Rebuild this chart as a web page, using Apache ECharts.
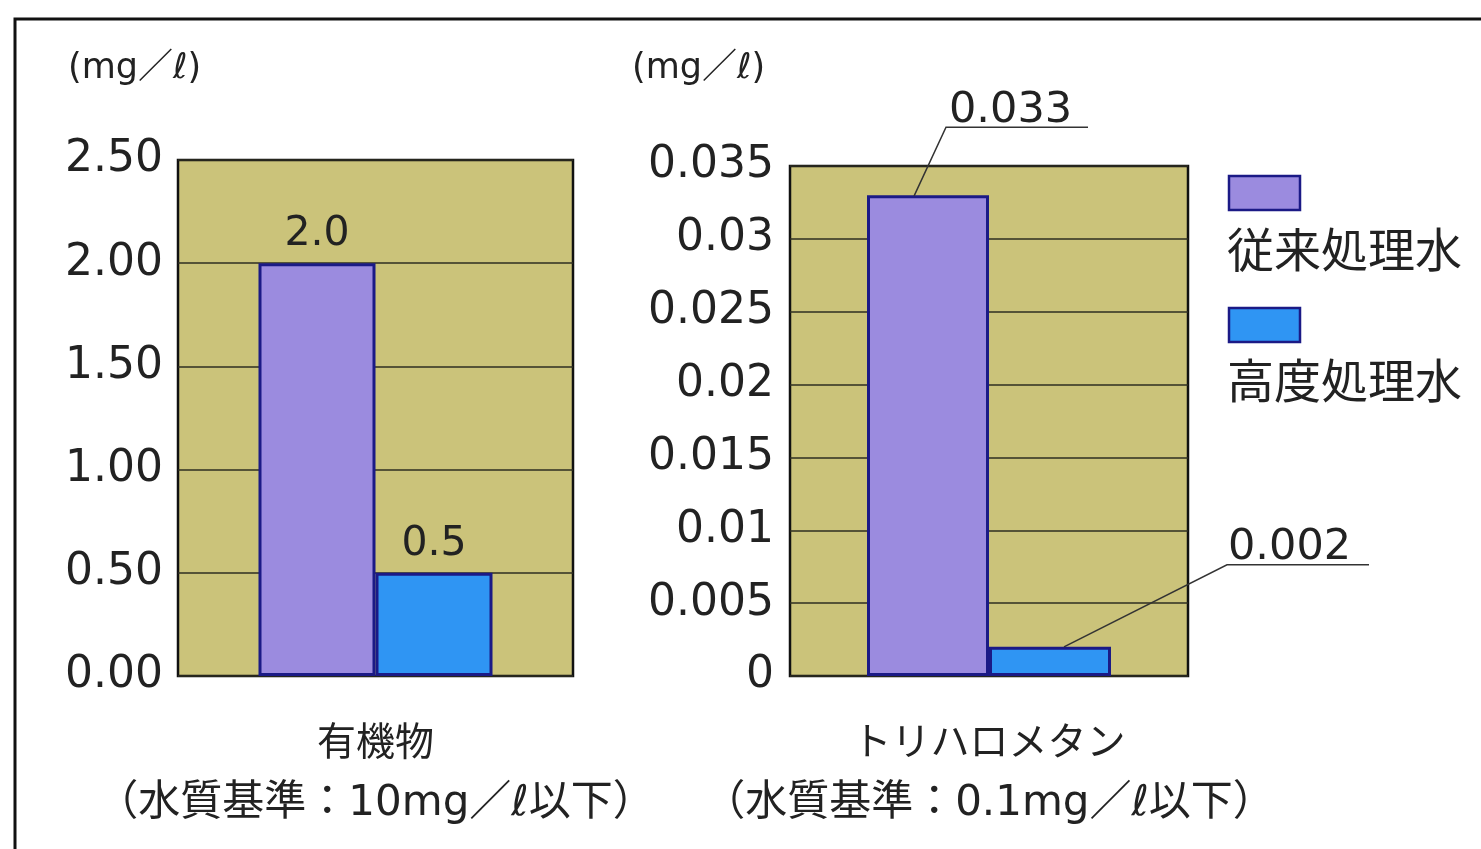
<!DOCTYPE html>
<html>
<head>
<meta charset="utf-8">
<script src="https://cdn.jsdelivr.net/npm/echarts@6/dist/echarts.min.js"></script>
<style>
html,body{margin:0;padding:0;background:#fff;}
#c{width:1481px;height:849px;}
</style>
</head>
<body>
<div id="c"></div>
<script>
// ---- data ----
const seriesNames = ['従来処理水', '高度処理水'];
const leftCategory = ['有機物'];
const leftSub = '（水質基準：10mg／ℓ以下）';
const leftConventional = [2.0];
const leftAdvanced = [0.5];
const leftTickLabels = ['0.00', '0.50', '1.00', '1.50', '2.00', '2.50'];

const rightCategory = ['トリハロメタン'];
const rightSub = '（水質基準：0.1mg／ℓ以下）';
const rightConventional = [0.033];
const rightAdvanced = [0.002];
const rightTickLabels = ['0', '0.005', '0.01', '0.015', '0.02', '0.025', '0.03', '0.035'];

const unitLabel = '(mg／ℓ)';

// ---- style ----
const FONT = '"DejaVu Sans", "Noto Sans CJK JP", sans-serif';
const JFONT = '"Noto Sans CJK JP", "DejaVu Sans", sans-serif';
const BG = '#cbc37a';
const PURPLE = '#9b8bdf';
const BLUE = '#2f95f3';
const BORDER = '#1b1a86';
const TXT = '#222';

const chart = echarts.init(document.getElementById('c'), null, {renderer: 'canvas'});

function catLabel(sub) {
  return {
    interval: 0, margin: 32, color: TXT,
    formatter: (v) => '{a|' + v + '}\n{b|' + sub + '}',
    rich: {
      a: {fontFamily: JFONT, fontSize: 39, lineHeight: 64, color: TXT},
      b: {fontFamily: FONT, fontSize: 42, lineHeight: 64, color: TXT}
    }
  };
}

const option = {
  animation: false,
  backgroundColor: '#fff',
  title: [
    {text: unitLabel, left: 63, top: 46, textStyle: {fontFamily: FONT, fontSize: 35, fontWeight: 'normal', color: TXT}},
    {text: unitLabel, left: 627, top: 46, textStyle: {fontFamily: FONT, fontSize: 35, fontWeight: 'normal', color: TXT}}
  ],
  grid: [
    {left: 178, top: 160, width: 395, height: 516, show: true, backgroundColor: BG, borderColor: '#111', borderWidth: 2.5, z: 0},
    {left: 790, top: 166, width: 398, height: 510, show: true, backgroundColor: BG, borderColor: '#111', borderWidth: 2.5, z: 0}
  ],
  xAxis: [
    {type: 'category', gridIndex: 0, data: leftCategory, axisLine: {show: false}, axisTick: {show: false}, axisLabel: catLabel(leftSub)},
    {type: 'category', gridIndex: 1, data: rightCategory, axisLine: {show: false}, axisTick: {show: false}, axisLabel: catLabel(rightSub)}
  ],
  yAxis: [
    {type: 'value', gridIndex: 0, min: 0, max: 2.5, interval: 0.5,
     axisLine: {show: false}, axisTick: {show: false},
     splitLine: {lineStyle: {color: '#2e2e22', width: 1.5}},
     axisLabel: {fontFamily: FONT, fontSize: 44, color: TXT, margin: 15,
       formatter: (v) => leftTickLabels[Math.round(v / 0.5)]}},
    {type: 'value', gridIndex: 1, min: 0, max: 0.035, interval: 0.005,
     axisLine: {show: false}, axisTick: {show: false},
     splitLine: {lineStyle: {color: '#2e2e22', width: 1.5}},
     axisLabel: {fontFamily: FONT, fontSize: 44, color: TXT, margin: 16,
       formatter: (v) => rightTickLabels[Math.round(v / 0.005)]}}
  ],
  series: [
    {name: seriesNames[0], type: 'bar', xAxisIndex: 0, yAxisIndex: 0, data: leftConventional,
     barWidth: 117, barGap: '0%',
     itemStyle: {color: PURPLE, borderColor: BORDER, borderWidth: 3},
     label: {show: true, position: 'top', distance: 8, fontFamily: FONT, fontSize: 41, color: TXT,
       formatter: (p) => p.value.toFixed(1)}},
    {name: seriesNames[1], type: 'bar', xAxisIndex: 0, yAxisIndex: 0, data: leftAdvanced,
     barWidth: 117, barGap: '0%',
     itemStyle: {color: BLUE, borderColor: BORDER, borderWidth: 3},
     label: {show: true, position: 'top', distance: 8, fontFamily: FONT, fontSize: 41, color: TXT,
       formatter: (p) => p.value.toFixed(1)}},
    {name: seriesNames[0], type: 'bar', xAxisIndex: 1, yAxisIndex: 1, data: rightConventional,
     barWidth: 122, barGap: '0%',
     itemStyle: {color: PURPLE, borderColor: BORDER, borderWidth: 3}},
    {name: seriesNames[1], type: 'bar', xAxisIndex: 1, yAxisIndex: 1, data: rightAdvanced,
     barWidth: 122, barGap: '0%',
     itemStyle: {color: BLUE, borderColor: BORDER, borderWidth: 3}}
  ]
};
chart.setOption(option);

// ---- annotations computed from the library's scales ----
const bwR = 122;
const catX = chart.convertToPixel({gridIndex: 1}, [rightCategory[0], 0])[0];
const yConv = chart.convertToPixel({gridIndex: 1}, [rightCategory[0], rightConventional[0]])[1];
const yAdv = chart.convertToPixel({gridIndex: 1}, [rightCategory[0], rightAdvanced[0]])[1];
const convCx = catX - bwR / 2;
const advCx = catX + bwR / 2;

const e1 = [convCx - 14, yConv + 1];
const k1 = [e1[0] + 32, e1[1] - 69];
const e2 = [advCx + 14, yAdv];
const k2 = [e2[0] + 163, e2[1] - 82];

const lineStyle = {stroke: '#333', lineWidth: 1.5, fill: null};
const graphic = [
  // outer frame
  {type: 'rect', shape: {x: 15, y: 19, width: 1600, height: 1000}, style: {fill: null, stroke: '#111', lineWidth: 3}, silent: true, z: 1},
  // leader for conventional value
  {type: 'polyline', shape: {points: [e1, k1, [k1[0] + 142, k1[1]]]}, style: lineStyle, z: 10},
  {type: 'text', x: k1[0] + 3, y: k1[1] + 5, style: {text: String(rightConventional[0]), fontFamily: FONT, fontSize: 43, fill: TXT, textVerticalAlign: 'bottom', verticalAlign: 'bottom'}, z: 10},
  // leader for advanced value
  {type: 'polyline', shape: {points: [e2, k2, [k2[0] + 142, k2[1]]]}, style: lineStyle, z: 10},
  {type: 'text', x: k2[0] + 1, y: k2[1] + 4, style: {text: String(rightAdvanced[0]), fontFamily: FONT, fontSize: 43, fill: TXT, textVerticalAlign: 'bottom', verticalAlign: 'bottom'}, z: 10},
  // legend
  {type: 'rect', shape: {x: 1229, y: 176, width: 71, height: 34}, style: {fill: PURPLE, stroke: BORDER, lineWidth: 2.5}, z: 10},
  {type: 'text', x: 1227, y: 249, style: {text: seriesNames[0], fontFamily: JFONT, fontSize: 47, fill: TXT, verticalAlign: 'middle', textVerticalAlign: 'middle'}, z: 10},
  {type: 'rect', shape: {x: 1229, y: 308, width: 71, height: 34}, style: {fill: BLUE, stroke: BORDER, lineWidth: 2.5}, z: 10},
  {type: 'text', x: 1227, y: 380, style: {text: seriesNames[1], fontFamily: JFONT, fontSize: 47, fill: TXT, verticalAlign: 'middle', textVerticalAlign: 'middle'}, z: 10}
];
chart.setOption({graphic: graphic});
</script>
</body>
</html>
